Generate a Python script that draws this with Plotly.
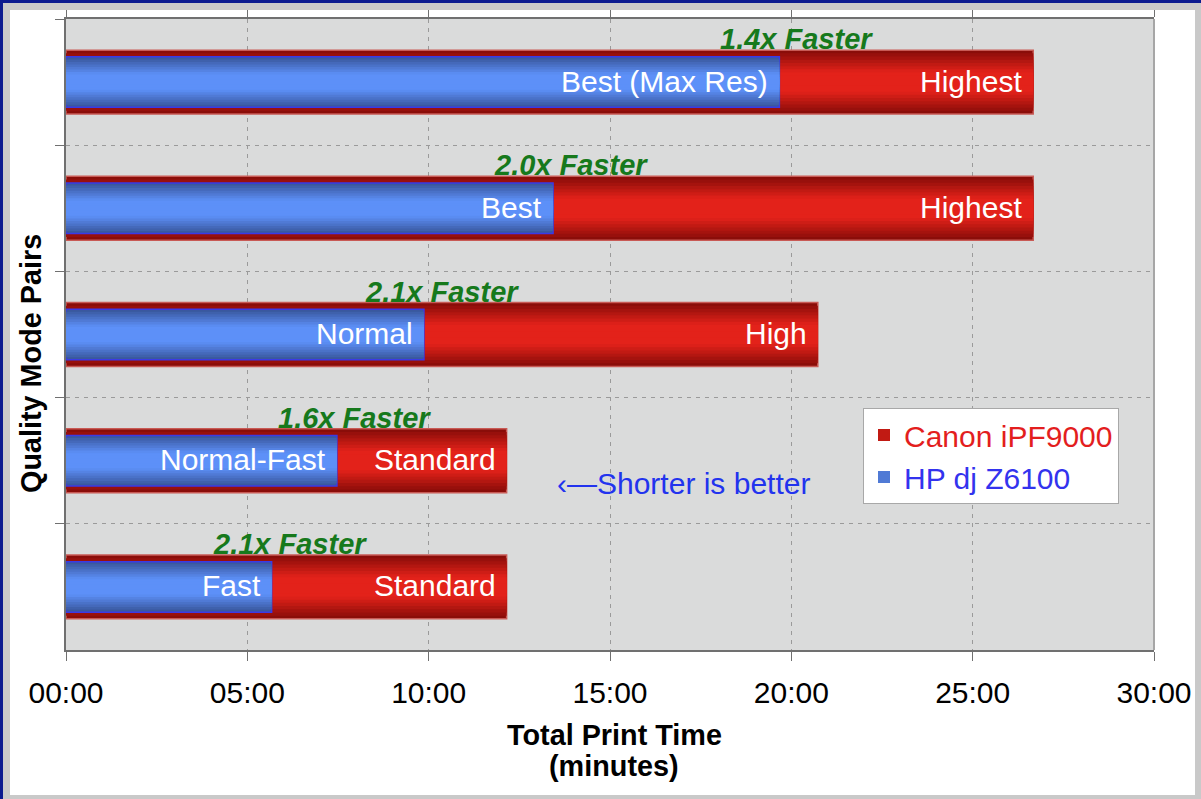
import plotly.graph_objects as go

# ---------------- data ----------------
pairs = ["Best (Max Res) / Highest", "Best / Highest", "Normal / High",
         "Normal-Fast / Standard", "Fast / Standard"]
canon_minutes = [26.67, 26.67, 20.73, 12.15, 12.15]
hp_minutes = [19.67, 13.43, 9.87, 7.47, 5.67]
canon_modes = ["Highest", "Highest", "High", "Standard", "Standard"]
hp_modes = ["Best (Max Res)", "Best", "Normal", "Normal-Fast", "Fast"]
speedup_labels = ["1.4x Faster", "2.0x Faster", "2.1x Faster", "1.6x Faster", "2.1x Faster"]
x_tick_values = [0, 5, 10, 15, 20, 25, 30]
x_tick_labels = ["00:00", "05:00", "10:00", "15:00", "20:00", "25:00", "30:00"]
series_names = ["Canon iPF9000", "HP dj Z6100"]

# ---------------- styling ----------------
W, H = 1201, 799
L, R, T, B = 66, 47, 19, 149
PW, PH = W - L - R, H - T - B
FONT = "Liberation Sans, Arial, sans-serif"
FS = 30
FS_TITLE = 28.8
FS_FAST = 29


def px(x):
    return (x - L) / PW


def py(y):
    return (H - B - y) / PH


def hex2rgb(h):
    h = h.lstrip("#")
    return [int(h[i:i + 2], 16) for i in (0, 2, 4)]


def blend(c1, c2, t):
    a, b = hex2rgb(c1), hex2rgb(c2)
    return "rgb(%d,%d,%d)" % tuple(round(a[i] + (b[i] - a[i]) * t) for i in range(3))


fig = go.Figure()

N = 10


def add_gradient_bars(values, name, edge, center, width, line_color, legend_color_html):
    for k in range(N):
        t = min(1.0, k / (N * 0.65))
        fig.add_trace(go.Bar(
            x=values, y=pairs, orientation="h",
            width=width * (1 - k / N),
            marker=dict(color=blend(edge, center, t),
                        line=dict(color=line_color if k == 0 else "rgba(0,0,0,0)",
                                  width=1.5 if k == 0 else 0)),
            name="<span style='color:%s'>%s</span>" % (legend_color_html, name),
            showlegend=(k == 4),
            legendgroup=name,
            hoverinfo="skip" if k else "x+name",
        ))


add_gradient_bars(canon_minutes, series_names[0], "#8a0d09", "#e3221a", 0.506, "#c85a55", "#e31e1e")
add_gradient_bars(hp_minutes, series_names[1], "#3a589e", "#5d90f8", 0.40, "#3a3ae6", "#3333ee")

annotations = []
for cat, val, lab in zip(pairs, canon_minutes, canon_modes):
    annotations.append(dict(x=val, y=cat, xref="x", yref="y", text=lab, showarrow=False,
                            xanchor="right", yanchor="middle", xshift=-9, yshift=1,
                            font=dict(family=FONT, size=FS, color="white")))
for cat, val, lab in zip(pairs, hp_minutes, hp_modes):
    annotations.append(dict(x=val, y=cat, xref="x", yref="y", text=lab, showarrow=False,
                            xanchor="right", yanchor="middle", xshift=-9, yshift=1,
                            font=dict(family=FONT, size=FS, color="white")))
for cat, val, lab in zip(pairs, hp_minutes, speedup_labels):
    annotations.append(dict(x=val, y=cat, xref="x", yref="y", text="<b><i>%s</i></b>" % lab,
                            showarrow=False, xanchor="left", yanchor="middle", xshift=-61, yshift=43,
                            font=dict(family=FONT, size=FS_FAST, color="#16791c")))

annotations.append(dict(x=px(683), y=py(483), xref="paper", yref="paper",
                        text="‹—Shorter is better", showarrow=False, xanchor="center", yanchor="middle",
                        font=dict(family=FONT, size=FS, color="#2233ee")))
annotations.append(dict(x=px(31), y=py(364), xref="paper", yref="paper", textangle=-90,
                        text="<b>Quality Mode Pairs</b>", showarrow=False, xanchor="center", yanchor="middle",
                        font=dict(family=FONT, size=FS_TITLE, color="black")))
annotations.append(dict(x=px(614), y=py(735), xref="paper", yref="paper",
                        text="<b>Total Print Time</b>", showarrow=False, xanchor="center", yanchor="middle",
                        font=dict(family=FONT, size=FS_TITLE, color="black")))
annotations.append(dict(x=px(614), y=py(766), xref="paper", yref="paper",
                        text="<b>(minutes)</b>", showarrow=False, xanchor="center", yanchor="middle",
                        font=dict(family=FONT, size=FS_TITLE, color="black")))


def rect(x0, y0, x1, y1, color):
    return dict(type="rect", xref="paper", yref="paper", x0=px(x0), x1=px(x1), y0=py(y1), y1=py(y0),
                fillcolor=color, line=dict(width=0), layer="above")


GRAY = "#c9c9c9"
BLUE = "#0b1a8f"
shapes = [
    rect(0, 3, W, 10, GRAY),
    rect(3, 0, 10, H, GRAY),
    rect(1195, 0, W, H, GRAY),
    rect(0, 795, W, H, GRAY),
    rect(0, 0, W, 3, BLUE),
    rect(0, 0, 3, H, BLUE),
    dict(type="line", xref="paper", yref="paper", x0=1, x1=1, y0=0, y1=1,
         line=dict(color="#a6a6a6", width=2), layer="above"),
]

fig.update_layout(
    width=W, height=H,
    margin=dict(l=L, r=R, t=T, b=B, autoexpand=False),
    barmode="overlay",
    paper_bgcolor="white",
    plot_bgcolor="#dadbdb",
    font=dict(family=FONT, size=FS, color="black"),
    showlegend=True,
    legend=dict(x=px(863), y=py(408), xanchor="left", yanchor="top",
                bgcolor="white", bordercolor="#a8a8a8", borderwidth=1,
                font=dict(family=FONT, size=FS), traceorder="normal",
                tracegroupgap=0, itemwidth=30),
    annotations=annotations,
    shapes=shapes,
    xaxis=dict(range=[0, 30], tickvals=x_tick_values, ticktext=x_tick_labels,
               showgrid=True, gridcolor="#9a9a9a", griddash="4px,5px", gridwidth=1,
               zeroline=False, showline=True, linecolor="#707070", linewidth=1.5,
               mirror="ticks", ticks="outside", ticklen=9, tickcolor="#707070",
               ticklabelstandoff=6,
               tickfont=dict(family=FONT, size=FS, color="black"), automargin=False),
    yaxis=dict(type="category", categoryorder="array", categoryarray=pairs,
               autorange="reversed", tickson="boundaries",
               showticklabels=False, ticks="outside", ticklen=9, tickcolor="#707070",
               showgrid=True, gridcolor="#9a9a9a", griddash="4px,5px", gridwidth=1,
               zeroline=False, showline=True, linecolor="#707070", linewidth=1.5,
               mirror=False, automargin=False),
)

fig.write_html("out.html", config={"displayModeBar": False},
               post_script="document.body.style.margin='0';document.body.style.overflow='hidden';")
